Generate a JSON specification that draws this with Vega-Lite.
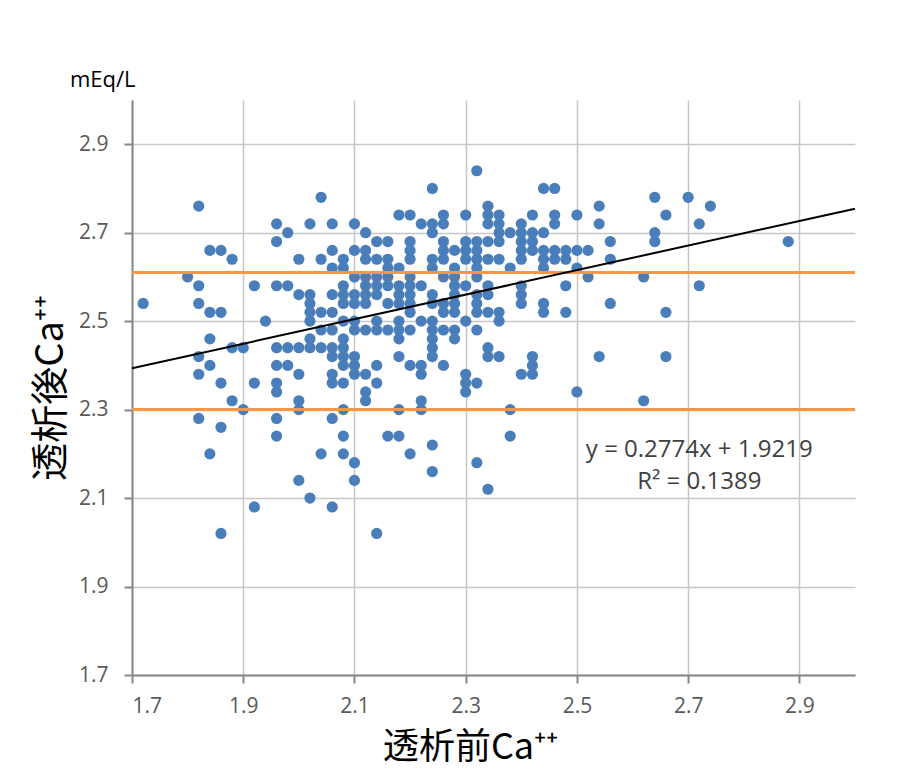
{
  "$schema": "https://vega.github.io/schema/vega-lite/v6.json",
  "width": 723,
  "height": 575,
  "autosize": {"type": "none"},
  "padding": {"left": 132, "top": 100, "right": 67, "bottom": 104},
  "background": "white",
  "title": {"text": "mEq/L", "anchor": "start", "frame": "group", "dx": -62, "offset": 8, "fontSize": 22, "fontWeight": "normal", "color": "#000000", "font": "Open Sans"},
  "datasets": {
    "pts": [
      {"x":1.72,"y":2.54},{"x":1.80,"y":2.60},
      {"x":1.82,"y":2.76},{"x":1.82,"y":2.58},{"x":1.82,"y":2.54},{"x":1.82,"y":2.42},{"x":1.82,"y":2.38},{"x":1.82,"y":2.28},
      {"x":1.84,"y":2.66},{"x":1.84,"y":2.52},{"x":1.84,"y":2.46},{"x":1.84,"y":2.40},{"x":1.84,"y":2.20},
      {"x":1.86,"y":2.66},{"x":1.86,"y":2.52},{"x":1.86,"y":2.36},{"x":1.86,"y":2.26},{"x":1.86,"y":2.02},
      {"x":1.88,"y":2.64},{"x":1.88,"y":2.44},{"x":1.88,"y":2.32},
      {"x":1.90,"y":2.44},{"x":1.90,"y":2.30},
      {"x":1.92,"y":2.58},{"x":1.92,"y":2.36},{"x":1.92,"y":2.08},
      {"x":1.94,"y":2.50},
      {"x":1.96,"y":2.72},{"x":1.96,"y":2.68},{"x":1.96,"y":2.58},{"x":1.96,"y":2.44},{"x":1.96,"y":2.40},{"x":1.96,"y":2.36},{"x":1.96,"y":2.34},{"x":1.96,"y":2.28},{"x":1.96,"y":2.24},
      {"x":1.98,"y":2.70},{"x":1.98,"y":2.58},{"x":1.98,"y":2.44},{"x":1.98,"y":2.40},
      {"x":2.00,"y":2.64},{"x":2.00,"y":2.56},{"x":2.00,"y":2.44},{"x":2.00,"y":2.38},{"x":2.00,"y":2.32},{"x":2.00,"y":2.30},{"x":2.00,"y":2.14},
      {"x":2.02,"y":2.72},{"x":2.02,"y":2.56},{"x":2.02,"y":2.54},{"x":2.02,"y":2.52},{"x":2.02,"y":2.50},{"x":2.02,"y":2.46},{"x":2.02,"y":2.44},{"x":2.02,"y":2.10},
      {"x":2.04,"y":2.78},{"x":2.04,"y":2.64},{"x":2.04,"y":2.52},{"x":2.04,"y":2.48},{"x":2.04,"y":2.44},{"x":2.04,"y":2.20},
      {"x":2.06,"y":2.72},{"x":2.06,"y":2.66},{"x":2.06,"y":2.62},{"x":2.06,"y":2.56},{"x":2.06,"y":2.52},{"x":2.06,"y":2.48},{"x":2.06,"y":2.44},{"x":2.06,"y":2.42},{"x":2.06,"y":2.38},{"x":2.06,"y":2.36},{"x":2.06,"y":2.28},{"x":2.06,"y":2.08},
      {"x":2.08,"y":2.64},{"x":2.08,"y":2.62},{"x":2.08,"y":2.58},{"x":2.08,"y":2.56},{"x":2.08,"y":2.54},{"x":2.08,"y":2.50},{"x":2.08,"y":2.46},{"x":2.08,"y":2.44},{"x":2.08,"y":2.42},{"x":2.08,"y":2.40},{"x":2.08,"y":2.36},{"x":2.08,"y":2.30},{"x":2.08,"y":2.24},{"x":2.08,"y":2.20},
      {"x":2.10,"y":2.72},{"x":2.10,"y":2.66},{"x":2.10,"y":2.60},{"x":2.10,"y":2.56},{"x":2.10,"y":2.54},{"x":2.10,"y":2.50},{"x":2.10,"y":2.48},{"x":2.10,"y":2.42},{"x":2.10,"y":2.40},{"x":2.10,"y":2.38},{"x":2.10,"y":2.18},{"x":2.10,"y":2.14},
      {"x":2.12,"y":2.70},{"x":2.12,"y":2.66},{"x":2.12,"y":2.64},{"x":2.12,"y":2.60},{"x":2.12,"y":2.58},{"x":2.12,"y":2.56},{"x":2.12,"y":2.54},{"x":2.12,"y":2.48},{"x":2.12,"y":2.38},{"x":2.12,"y":2.34},{"x":2.12,"y":2.32},
      {"x":2.14,"y":2.68},{"x":2.14,"y":2.64},{"x":2.14,"y":2.60},{"x":2.14,"y":2.58},{"x":2.14,"y":2.56},{"x":2.14,"y":2.50},{"x":2.14,"y":2.48},{"x":2.14,"y":2.40},{"x":2.14,"y":2.36},{"x":2.14,"y":2.02},
      {"x":2.16,"y":2.68},{"x":2.16,"y":2.64},{"x":2.16,"y":2.62},{"x":2.16,"y":2.60},{"x":2.16,"y":2.58},{"x":2.16,"y":2.54},{"x":2.16,"y":2.48},{"x":2.16,"y":2.24},
      {"x":2.18,"y":2.74},{"x":2.18,"y":2.62},{"x":2.18,"y":2.58},{"x":2.18,"y":2.56},{"x":2.18,"y":2.54},{"x":2.18,"y":2.50},{"x":2.18,"y":2.48},{"x":2.18,"y":2.46},{"x":2.18,"y":2.42},{"x":2.18,"y":2.30},{"x":2.18,"y":2.24},
      {"x":2.20,"y":2.74},{"x":2.20,"y":2.68},{"x":2.20,"y":2.66},{"x":2.20,"y":2.64},{"x":2.20,"y":2.60},{"x":2.20,"y":2.58},{"x":2.20,"y":2.56},{"x":2.20,"y":2.54},{"x":2.20,"y":2.52},{"x":2.20,"y":2.48},{"x":2.20,"y":2.40},{"x":2.20,"y":2.20},
      {"x":2.22,"y":2.72},{"x":2.22,"y":2.58},{"x":2.22,"y":2.50},{"x":2.22,"y":2.40},{"x":2.22,"y":2.38},{"x":2.22,"y":2.32},{"x":2.22,"y":2.30},
      {"x":2.24,"y":2.80},{"x":2.24,"y":2.72},{"x":2.24,"y":2.70},{"x":2.24,"y":2.64},{"x":2.24,"y":2.62},{"x":2.24,"y":2.56},{"x":2.24,"y":2.54},{"x":2.24,"y":2.50},{"x":2.24,"y":2.48},{"x":2.24,"y":2.46},{"x":2.24,"y":2.44},{"x":2.24,"y":2.42},{"x":2.24,"y":2.22},{"x":2.24,"y":2.16},
      {"x":2.26,"y":2.74},{"x":2.26,"y":2.72},{"x":2.26,"y":2.68},{"x":2.26,"y":2.66},{"x":2.26,"y":2.64},{"x":2.26,"y":2.60},{"x":2.26,"y":2.54},{"x":2.26,"y":2.52},{"x":2.26,"y":2.48},{"x":2.26,"y":2.40},
      {"x":2.28,"y":2.66},{"x":2.28,"y":2.62},{"x":2.28,"y":2.60},{"x":2.28,"y":2.58},{"x":2.28,"y":2.56},{"x":2.28,"y":2.54},{"x":2.28,"y":2.52},{"x":2.28,"y":2.48},{"x":2.28,"y":2.46},
      {"x":2.30,"y":2.74},{"x":2.30,"y":2.68},{"x":2.30,"y":2.66},{"x":2.30,"y":2.64},{"x":2.30,"y":2.58},{"x":2.30,"y":2.50},{"x":2.30,"y":2.38},{"x":2.30,"y":2.36},{"x":2.30,"y":2.34},
      {"x":2.32,"y":2.84},{"x":2.32,"y":2.68},{"x":2.32,"y":2.66},{"x":2.32,"y":2.64},{"x":2.32,"y":2.62},{"x":2.32,"y":2.60},{"x":2.32,"y":2.56},{"x":2.32,"y":2.54},{"x":2.32,"y":2.52},{"x":2.32,"y":2.48},{"x":2.32,"y":2.36},{"x":2.32,"y":2.18},
      {"x":2.34,"y":2.76},{"x":2.34,"y":2.74},{"x":2.34,"y":2.72},{"x":2.34,"y":2.68},{"x":2.34,"y":2.64},{"x":2.34,"y":2.58},{"x":2.34,"y":2.56},{"x":2.34,"y":2.52},{"x":2.34,"y":2.44},{"x":2.34,"y":2.42},{"x":2.34,"y":2.12},
      {"x":2.36,"y":2.74},{"x":2.36,"y":2.72},{"x":2.36,"y":2.70},{"x":2.36,"y":2.68},{"x":2.36,"y":2.64},{"x":2.36,"y":2.52},{"x":2.36,"y":2.50},{"x":2.36,"y":2.42},
      {"x":2.38,"y":2.70},{"x":2.38,"y":2.62},{"x":2.38,"y":2.30},{"x":2.38,"y":2.24},
      {"x":2.40,"y":2.72},{"x":2.40,"y":2.70},{"x":2.40,"y":2.68},{"x":2.40,"y":2.66},{"x":2.40,"y":2.64},{"x":2.40,"y":2.58},{"x":2.40,"y":2.56},{"x":2.40,"y":2.54},{"x":2.40,"y":2.38},
      {"x":2.42,"y":2.74},{"x":2.42,"y":2.70},{"x":2.42,"y":2.68},{"x":2.42,"y":2.66},{"x":2.42,"y":2.42},{"x":2.42,"y":2.40},{"x":2.42,"y":2.38},
      {"x":2.44,"y":2.80},{"x":2.44,"y":2.70},{"x":2.44,"y":2.66},{"x":2.44,"y":2.64},{"x":2.44,"y":2.62},{"x":2.44,"y":2.54},{"x":2.44,"y":2.52},
      {"x":2.46,"y":2.80},{"x":2.46,"y":2.74},{"x":2.46,"y":2.72},{"x":2.46,"y":2.66},{"x":2.46,"y":2.64},
      {"x":2.48,"y":2.66},{"x":2.48,"y":2.64},{"x":2.48,"y":2.58},{"x":2.48,"y":2.52},
      {"x":2.50,"y":2.74},{"x":2.50,"y":2.66},{"x":2.50,"y":2.62},{"x":2.50,"y":2.34},
      {"x":2.52,"y":2.66},{"x":2.52,"y":2.60},
      {"x":2.54,"y":2.76},{"x":2.54,"y":2.72},{"x":2.54,"y":2.42},
      {"x":2.56,"y":2.68},{"x":2.56,"y":2.64},{"x":2.56,"y":2.54},
      {"x":2.62,"y":2.60},{"x":2.62,"y":2.32},
      {"x":2.64,"y":2.78},{"x":2.64,"y":2.70},{"x":2.64,"y":2.68},
      {"x":2.66,"y":2.74},{"x":2.66,"y":2.52},{"x":2.66,"y":2.42},
      {"x":2.70,"y":2.78},
      {"x":2.72,"y":2.72},{"x":2.72,"y":2.58},
      {"x":2.74,"y":2.76},
      {"x":2.88,"y":2.68}
    ],
    "limits": [{"y": 2.61}, {"y": 2.30}],
    "trend": [{"x": 1.7, "y": 2.3935}, {"x": 3.0, "y": 2.7541}],
    "eq": [{"t": "y = 0.2774x + 1.9219", "x": 2.72, "y": 2.209}, {"t": "R² = 0.1389", "x": 2.72, "y": 2.137}]
  },
  "layer": [
    {
      "data": {"name": "pts"},
      "mark": {"type": "circle", "size": 125, "color": "#4A7EBB", "opacity": 1},
      "encoding": {
        "x": {"field": "x", "type": "quantitative", "scale": {"domain": [1.7, 3.0], "nice": false, "zero": false}, "title": "透析前Ca⁺⁺",
              "axis": {"values": [1.7, 1.9, 2.1, 2.3, 2.5, 2.7, 2.9], "format": ".1f", "labelFont": "Open Sans", "labelFontSize": 21, "labelPadding": 12, "titlePadding": 14, "titleX": 338, "titleFontSize": 36}},
        "y": {"field": "y", "type": "quantitative", "scale": {"domain": [1.7, 3.0], "nice": false, "zero": false}, "title": "透析後Ca⁺⁺",
              "axis": {"values": [1.7, 1.9, 2.1, 2.3, 2.5, 2.7, 2.9], "format": ".1f", "labelFont": "Open Sans", "labelFontSize": 21, "labelPadding": 16, "titlePadding": 8}}
      }
    },
    {
      "data": {"name": "limits"},
      "mark": {"type": "rule", "color": "#F79646", "strokeWidth": 3},
      "encoding": {
        "y": {"field": "y", "type": "quantitative", "title": "透析後Ca⁺⁺"}
      }
    },
    {
      "data": {"name": "trend"},
      "mark": {"type": "line", "color": "#000000", "strokeWidth": 2},
      "encoding": {
        "x": {"field": "x", "type": "quantitative", "title": "透析前Ca⁺⁺"},
        "y": {"field": "y", "type": "quantitative", "title": "透析後Ca⁺⁺"}
      }
    },
    {
      "data": {"name": "eq"},
      "mark": {"type": "text", "fontSize": 24, "color": "#404040", "align": "center", "baseline": "middle", "font": "Open Sans"},
      "encoding": {
        "x": {"field": "x", "type": "quantitative", "title": "透析前Ca⁺⁺"},
        "y": {"field": "y", "type": "quantitative", "title": "透析後Ca⁺⁺"},
        "text": {"field": "t"}
      }
    }
  ],
  "config": {
    "view": {"stroke": null},
    "axis": {
      "grid": true, "gridColor": "#C6C6C6", "gridWidth": 1.5,
      "domainColor": "#878787", "domainWidth": 2,
      "tickColor": "#878787", "tickWidth": 2, "tickSize": 8,
      "labelColor": "#595959",
      "titleFont": "Noto Sans CJK JP", "titleFontSize": 38, "titleFontWeight": "normal", "titleColor": "#000000"
    }
  }
}
